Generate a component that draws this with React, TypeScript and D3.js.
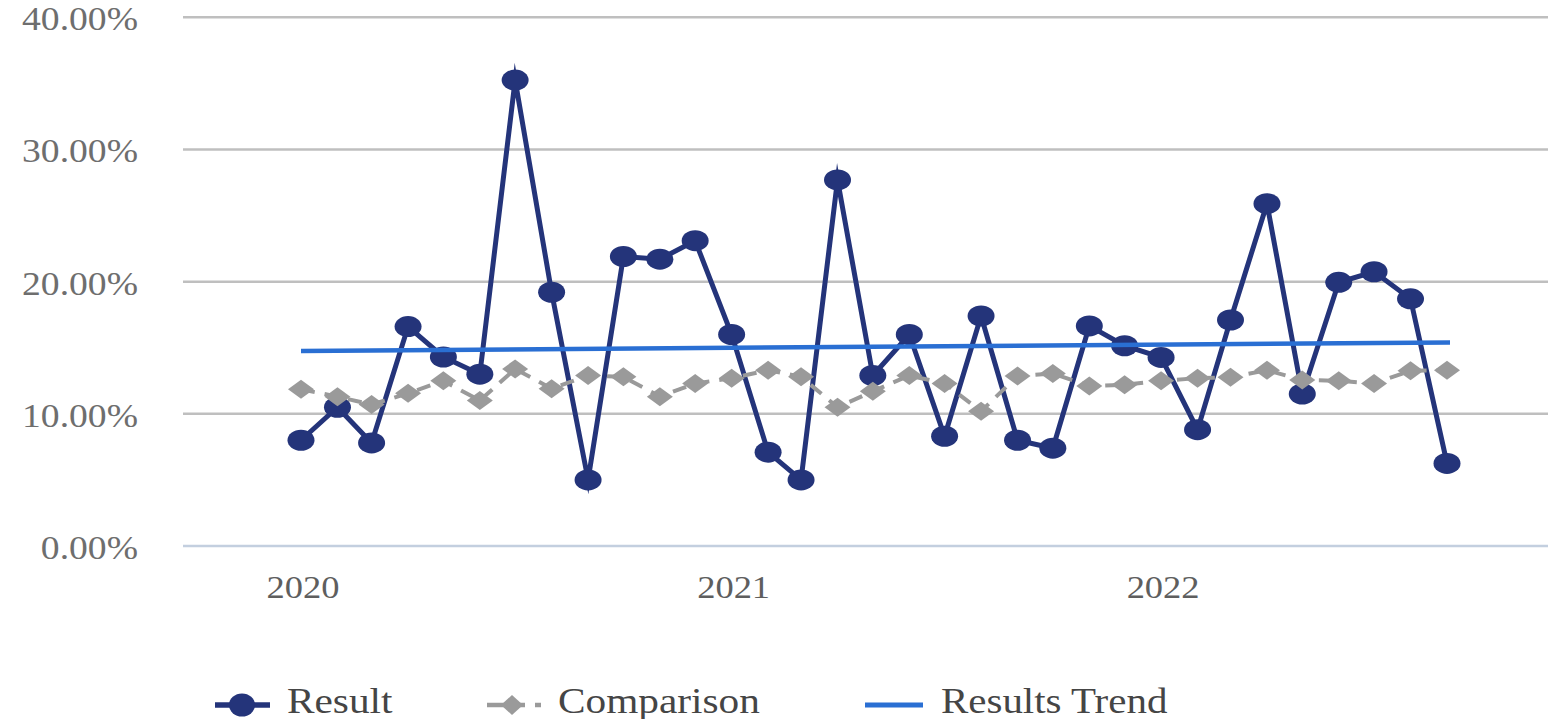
import * as d3 from "d3";

// Monthly series, values in percent
const MONTHS = [
  "2020-01", "2020-02", "2020-03", "2020-04", "2020-05", "2020-06",
  "2020-07", "2020-08", "2020-09", "2020-10", "2020-11", "2020-12",
  "2021-01", "2021-02", "2021-03", "2021-04", "2021-05", "2021-06",
  "2021-07", "2021-08", "2021-09", "2021-10", "2021-11", "2021-12",
  "2022-01", "2022-02", "2022-03", "2022-04", "2022-05", "2022-06",
  "2022-07", "2022-08", "2022-09",
];
const RESULT = [
  8.0, 10.5, 7.8, 16.6, 14.3, 13.0, 35.25, 19.2, 5.0, 21.9, 21.7, 23.1,
  16.0, 7.1, 5.0, 27.7, 12.9, 16.0, 8.3, 17.4, 8.0, 7.4, 16.65, 15.15,
  14.27, 8.8, 17.1, 25.9, 11.5, 19.95, 20.75, 18.7, 6.25,
];
const COMPARISON = [
  11.85, 11.3, 10.7, 11.55, 12.5, 11.0, 13.4, 11.9, 12.9, 12.8, 11.3, 12.3,
  12.7, 13.3, 12.8, 10.5, 11.7, 12.9, 12.3, 10.2, 12.86, 13.06, 12.1, 12.2,
  12.5, 12.7, 12.76, 13.3, 12.56, 12.5, 12.3, 13.26, 13.3,
];
// trend line end points (first and last month)
const TREND = [14.75, 15.4];
const Y_TICKS = [0, 10, 20, 30, 40];
const YEAR_TICKS = ["2020", "2021", "2022"];

const W = 1548;
const H = 719;
const GRID_LEFT = 183;
const NAVY = "#24347a";
const GRAY = "#9a9a9a";
const BLUE = "#2a6fd3";
const FONT = "'Liberation Serif', 'Times New Roman', serif";

const parseMonth = d3.timeParse("%Y-%m");
const dates = MONTHS.map((m) => parseMonth(m) as Date);

const x = d3.scaleTime().domain([dates[0], dates[dates.length - 1]]).range([301, 1447]);
const y = d3.scaleLinear().domain([0, 40]).range([546, 17.3]);

const line = d3
  .line<number>()
  .x((_, i) => x(dates[i]))
  .y((d) => y(d));

const diamond = (cx: number, cy: number, hw = 13, hh = 9.5) =>
  `M${cx - hw},${cy}L${cx},${cy - hh}L${cx + hw},${cy}L${cx},${cy + hh}Z`;

function Stretched({ x, y, s, anchor = "start", size, fill, children }: any) {
  return (
    <g transform={`translate(${x},${y}) scale(${s},1)`}>
      <text textAnchor={anchor} fontSize={size} fill={fill} fontFamily={FONT}>
        {children}
      </text>
    </g>
  );
}

export default function App() {
  const fmt = d3.format(".2f");
  return (
    <svg
      width={W}
      height={H}
      style={{ position: "absolute", left: 0, top: 0, background: "#fff" }}
    >
      {/* grid */}
      {Y_TICKS.map((t) => (
        <line
          key={t}
          x1={GRID_LEFT}
          x2={W}
          y1={y(t)}
          y2={y(t)}
          stroke={t === 0 ? "#c3cfdf" : "#bfbfbf"}
          strokeWidth={2.5}
        />
      ))}
      {Y_TICKS.map((t) => (
        <Stretched key={t} x={138} y={y(t) + 13} s={1.14} anchor="end" size={33} fill="#6e6e6e">
          {fmt(t) + "%"}
        </Stretched>
      ))}
      {YEAR_TICKS.map((yr) => (
        <Stretched
          key={yr}
          x={x(parseMonth(yr + "-01") as Date) + 2}
          y={598}
          s={1.14}
          anchor="middle"
          size={32}
          fill="#5e5e5e"
        >
          {yr}
        </Stretched>
      ))}

      {/* Result */}
      <path
        d={line(RESULT) ?? ""}
        fill="none"
        stroke={NAVY}
        strokeWidth={5}
        strokeLinejoin="miter"
        strokeMiterlimit={10}
      />
      {RESULT.map((v, i) => (
        <ellipse key={i} cx={x(dates[i])} cy={y(v)} rx={13.5} ry={10.5} fill={NAVY} />
      ))}

      {/* Comparison */}
      <path
        d={line(COMPARISON) ?? ""}
        fill="none"
        stroke={GRAY}
        strokeWidth={4}
        strokeDasharray="14,10"
      />
      {COMPARISON.map((v, i) => (
        <path key={i} d={diamond(x(dates[i]), y(v))} fill={GRAY} />
      ))}

      {/* Trend */}
      <line
        x1={x(dates[0])}
        x2={x(dates[dates.length - 1]) + 3}
        y1={y(TREND[0])}
        y2={y(TREND[1])}
        stroke={BLUE}
        strokeWidth={4.5}
      />

      {/* legend */}
      <line x1={215} x2={270} y1={705} y2={705} stroke={NAVY} strokeWidth={5.5} />
      <ellipse cx={242} cy={705} rx={13} ry={11.5} fill={NAVY} />
      <Stretched x={287} y={713} s={1.18} size={35} fill="#454545">Result</Stretched>

      <line x1={487} x2={541} y1={705} y2={705} stroke={GRAY} strokeWidth={4.5} strokeDasharray="38,10,6,10" />
      <path d={diamond(512, 705, 11, 10)} fill={GRAY} />
      <Stretched x={558} y={713} s={1.18} size={35} fill="#454545">Comparison</Stretched>

      <line x1={865} x2={923} y1={705} y2={705} stroke={BLUE} strokeWidth={5} />
      <Stretched x={941} y={713} s={1.17} size={35} fill="#454545">Results Trend</Stretched>
    </svg>
  );
}
